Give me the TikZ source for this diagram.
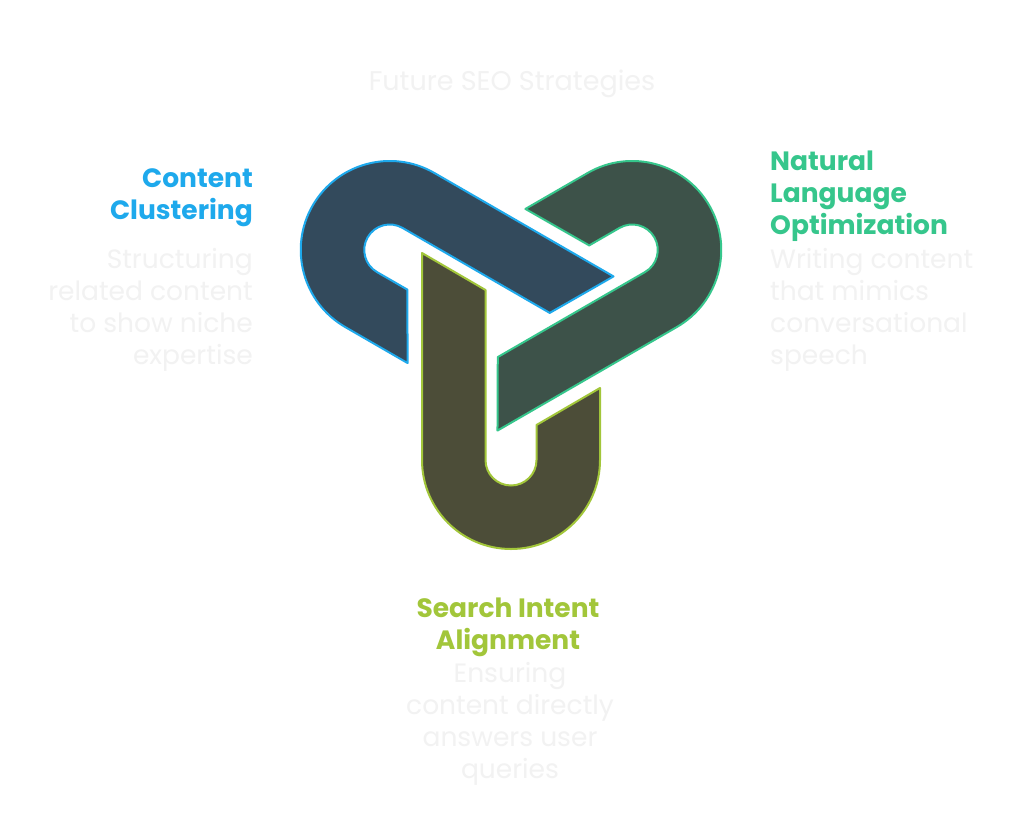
\documentclass[tikz,border=0pt]{standalone}
\usepackage{fontspec}
\setmainfont{Poppins}
\begin{document}
\begin{tikzpicture}[x=1pt,y=1pt,
  piece/.style={line width=2pt,line join=round},
  head/.style={font=\fontsize{26.5}{32}\selectfont\bfseries,inner sep=0pt},
  desc/.style={font=\fontsize{26.5}{32}\selectfont,text=gray!10,inner sep=0pt}]
\useasboundingbox[fill=white] (0,0) rectangle (1024,-832);
\definecolor{cb}{HTML}{1EA9EC}\definecolor{cbf}{HTML}{334A5C}
\definecolor{cg}{HTML}{36C68C}\definecolor{cgf}{HTML}{3D5249}
\definecolor{co}{HTML}{A2C63A}\definecolor{cof}{HTML}{4C4D38}
\def\upath{(-89,67) -- (-89,-140) arc (180:360:89) -- (89,-68) -- (25.5,-105) -- (25.5,-140) arc (0:-180:25.5) -- (-25.5,30) -- cycle}
\begin{scope}[shift={(511,-320)}]
\draw[piece,draw=co,fill=cof] \upath;
\draw[piece,draw=cg,fill=cgf,rotate=120] \upath;
\draw[piece,draw=cb,fill=cbf,rotate=240] \upath;
\end{scope}
\node[desc,font=\fontsize{27}{32}\selectfont] (title) at (512,-84) {Future SEO Strategies};
\node[head,text=cb,align=right,anchor=north east] (h1) at (253,-168) {Content\\Clustering};
\node[desc,align=right,anchor=north east] (d1) at (253,-248) {Structuring\\related content\\to show niche\\expertise};
\node[head,text=cg,align=left,anchor=north west] (h2) at (770,-151) {Natural\\Language\\Optimization};
\node[desc,align=left,anchor=north west] (d2) at (770,-248) {Writing content\\that mimics\\conversational\\speech};
\node[head,text=co,align=center,anchor=north] (h3) at (508,-598) {Search Intent\\Alignment};
\node[desc,align=center,anchor=north] (d3) at (510,-662) {Ensuring\\content directly\\answers user\\queries};
\end{tikzpicture}
\end{document}
